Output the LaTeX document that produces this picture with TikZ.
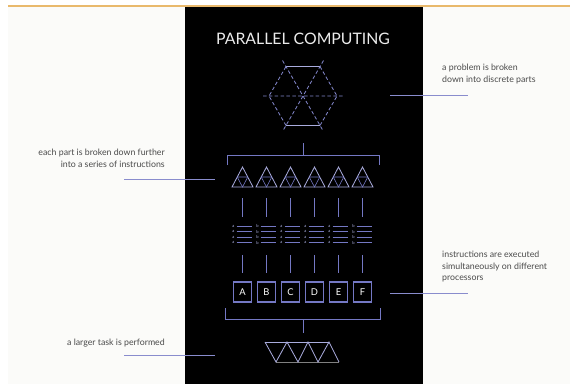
\documentclass[tikz,border=0pt]{standalone}
\usepackage{fontspec}
\setmainfont{Lato}
\usetikzlibrary{positioning}
\definecolor{paper}{HTML}{FBFBF9}
\definecolor{rulebar}{HTML}{E9B96C}
\definecolor{lav}{HTML}{7478C4}
\definecolor{pale}{HTML}{A9ACDD}
\definecolor{note}{HTML}{4A4A4A}
\tikzset{
  link/.style={draw=lav!85!white,line width=0.8pt},
  ink/.style={draw=lav,line width=0.8pt},
  notetext/.style={font=\fontsize{7.5}{9.8}\selectfont,text=note,inner sep=0pt},
  proc/.style={draw=lav,line width=0.9pt,minimum width=0.52cm,minimum height=0.6cm,
    inner sep=0pt,text=white,font=\fontsize{8}{8}\selectfont},
}

\begin{document}
\begin{tikzpicture}[x=0.03cm,y=-0.03cm]
  \useasboundingbox (0,0) rectangle (570,384);
  \fill[white] (0,0) rectangle (570,384);
  \fill[paper] (8,7) rectangle (570,384);
  \fill[black] (185,7) rectangle (423,384);
  \draw[rulebar,line width=1.6pt] (8,6) -- (570,6);

  \node[text=white!92!black,font=\fontsize{13.5}{13.5}\selectfont] (title) at (303,39) {PARALLEL COMPUTING};

  % hexagon cut into parts
  \draw[pale,line width=0.8pt] (286,66.5) -- (320,66.5) (286,125.5) -- (320,125.5);
  \draw[lav!90!white,densely dashed,line width=0.7pt]
    (320,66.5) -- (337,96) -- (320,125.5) (286,125.5) -- (269,96) -- (286,66.5)
    (263,96) -- (343,96) (282.5,60.5) -- (323.5,131.5) (323.5,60.5) -- (282.5,131.5);

  % top bracket
  \draw[ink] (227,165) -- (227,155) -- (379,155) -- (379,165);
  \draw[ink] (303,143) -- (303,155);

  \foreach \x/\c [count=\i] in {242.5/a,266.5/b,290.5/a,314.5/a,338.5/a,362.5/b}{
    % parts
    \draw[pale,line width=0.7pt] (\x-10.5,187) -- (\x+10.5,187) -- (\x,167) -- cycle;
    \draw[lav,line width=0.5pt] (\x-5.25,177) -- (\x+5.25,177) -- (\x,187) -- cycle;
    \draw[ink] (\x,198) -- (\x,217);
    % instructions
    \foreach \y in {226,231.5,237,242.5}{
      \node[text=pale,font=\fontsize{3.5}{3.5}\selectfont,inner sep=0pt] at (\x-9,\y) {\c};
      \draw[lav,line width=0.6pt] (\x-6,\y) -- (\x+9,\y);
    }
    \draw[ink] (\x,255) -- (\x,273);
  }

  % processors
  \foreach \x/\p in {242.5/A,266.5/B,290.5/C,314.5/D,338.5/E,362.5/F}
    \node[proc] (p\p) at (\x,292) {\p};

  % bottom bracket
  \draw[ink] (225,308) -- (225,319) -- (380,319) -- (380,308);
  \draw[ink] (303,319) -- (303,333);

  % larger task
  \draw[pale,line width=0.8pt] (265,342) -- (329,342);
  \draw[gray,line width=0.8pt] (276,362) -- (339,362);
  \draw[pale,line width=0.7pt] (265,342) -- (276,362) -- (287,342) -- (298,362)
    -- (308,342) -- (318,362) -- (329,342) -- (339,362);

  % notes
  \node[notetext,anchor=north west,align=left] (probnote) at (442,64)
    {a problem is broken\\down into discrete parts};
  \node[notetext,anchor=north east,align=right] (partnote) at (165,149)
    {each part is broken down further\\into a series of instructions};
  \node[notetext,anchor=north west,align=left] (execnote) at (442,251)
    {instructions are executed\\simultaneously on different\\processors};
  \node[notetext,anchor=east] (tasknote) at (165,343) {a larger task is performed};

  \coordinate (probA) at (390,95);  \coordinate (probB) at (468,95);
  \coordinate (partA) at (124,179); \coordinate (partB) at (215,179);
  \coordinate (execA) at (390,293); \coordinate (execB) at (468,293);
  \coordinate (taskA) at (124,355); \coordinate (taskB) at (215,355);
  \draw[link] (probA) -- (probB);
  \draw[link] (partA) -- (partB);
  \draw[link] (execA) -- (execB);
  \draw[link] (taskA) -- (taskB);
\end{tikzpicture}
\end{document}
